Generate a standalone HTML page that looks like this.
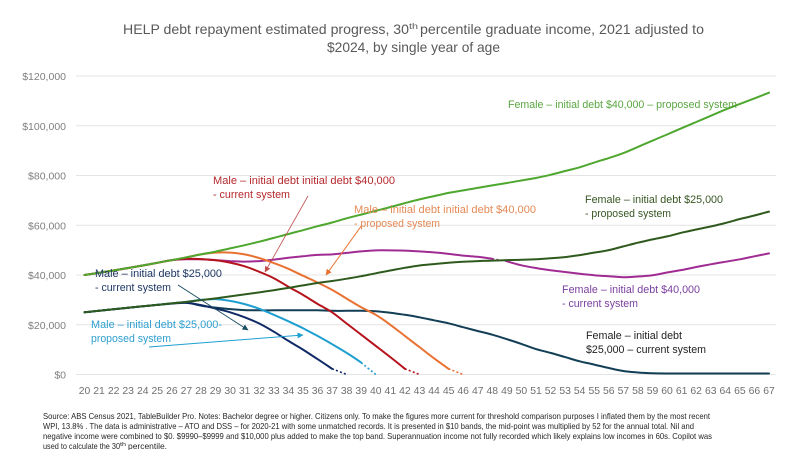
<!DOCTYPE html>
<html lang="en">
<head>
<meta charset="utf-8">
<title>HELP debt repayment estimated progress</title>
<style>
html,body{margin:0;padding:0;background:#fff;width:800px;height:450px;overflow:hidden}
svg{display:block;filter:blur(0.3px)}
text{font-family:"Liberation Sans",sans-serif}
</style>
</head>
<body>
<svg id="chart" xmlns="http://www.w3.org/2000/svg" width="800" height="450" viewBox="0 0 800 450">
  <rect width="800" height="450" fill="#ffffff"/>
  <defs>
    <marker id="arrow-red" markerWidth="7" markerHeight="7" refX="5.5" refY="3" orient="auto" markerUnits="userSpaceOnUse"><path d="M0,0 L6,3 L0,6 Z" fill="#c0504d"/></marker>
    <marker id="arrow-orange" markerWidth="7" markerHeight="7" refX="5.5" refY="3" orient="auto" markerUnits="userSpaceOnUse"><path d="M0,0 L6,3 L0,6 Z" fill="#e97132"/></marker>
    <marker id="arrow-navy" markerWidth="7" markerHeight="7" refX="5.5" refY="3" orient="auto" markerUnits="userSpaceOnUse"><path d="M0,0 L6,3 L0,6 Z" fill="#1d4e63"/></marker>
    <marker id="arrow-blue" markerWidth="7" markerHeight="7" refX="5.5" refY="3" orient="auto" markerUnits="userSpaceOnUse"><path d="M0,0 L6,3 L0,6 Z" fill="#1f9fd0"/></marker>
  </defs>

  <g fill="#595959" font-size="14">
    <text x="123" y="34" textLength="286" lengthAdjust="spacingAndGlyphs">HELP debt repayment estimated progress, 30</text>
    <text x="409" y="29" font-size="8.5" textLength="9" lengthAdjust="spacingAndGlyphs">th</text>
    <text x="420" y="34" textLength="284" lengthAdjust="spacingAndGlyphs">percentile graduate income, 2021 adjusted to</text>
    <text x="327" y="52" textLength="173" lengthAdjust="spacingAndGlyphs">$2024, by single year of age</text>
  </g>

  <g id="grid"></g>
  <g id="yTicks"></g>
  <g id="xTicks"></g>
  <g id="lines"></g>

  <g fill="none">
    <line x1="308" y1="196" x2="265" y2="272" stroke="#c0504d" stroke-width="0.8" marker-end="url(#arrow-red)"/>
    <line x1="362" y1="225" x2="326" y2="275" stroke="#e97132" stroke-width="1" marker-end="url(#arrow-orange)"/>
    <line x1="178" y1="285" x2="248" y2="330" stroke="#1d4e63" stroke-width="1" marker-end="url(#arrow-navy)"/>
    <line x1="149" y1="347" x2="303" y2="335" stroke="#1f9fd0" stroke-width="1" marker-end="url(#arrow-blue)"/>
  </g>

  <g font-size="11">
    <text fill="#5aa642" x="508" y="108" textLength="229" lengthAdjust="spacingAndGlyphs">Female – initial debt $40,000 – proposed system</text>
    <text fill="#375623" x="585" y="203" textLength="138" lengthAdjust="spacingAndGlyphs">Female – initial debt $25,000</text>
    <text fill="#375623" x="585" y="217" textLength="86" lengthAdjust="spacingAndGlyphs">- proposed system</text>
    <text fill="#7a3f9f" x="562" y="293" textLength="138" lengthAdjust="spacingAndGlyphs">Female – initial debt $40,000</text>
    <text fill="#7a3f9f" x="562" y="307" textLength="76" lengthAdjust="spacingAndGlyphs">- current system</text>
    <text fill="#222222" x="586" y="339" textLength="96" lengthAdjust="spacingAndGlyphs">Female – initial debt</text>
    <text fill="#222222" x="586" y="353" textLength="120" lengthAdjust="spacingAndGlyphs">$25,000 – current system</text>
    <text fill="#b5282c" x="213" y="184" textLength="182" lengthAdjust="spacingAndGlyphs">Male – initial debt initial debt $40,000</text>
    <text fill="#b5282c" x="213" y="198" textLength="77" lengthAdjust="spacingAndGlyphs">- current system</text>
    <text fill="#e58a55" x="354" y="213" textLength="182" lengthAdjust="spacingAndGlyphs">Male – initial debt initial debt $40,000</text>
    <text fill="#e58a55" x="354" y="227" textLength="86" lengthAdjust="spacingAndGlyphs">- proposed system</text>
    <text fill="#1f3864" x="95" y="277" textLength="127" lengthAdjust="spacingAndGlyphs">Male – initial debt $25,000</text>
    <text fill="#1f3864" x="95" y="291" textLength="76" lengthAdjust="spacingAndGlyphs">- current system</text>
    <text fill="#2e9fd0" x="91" y="328" textLength="131" lengthAdjust="spacingAndGlyphs">Male – initial debt $25,000-</text>
    <text fill="#2e9fd0" x="91" y="342" textLength="80" lengthAdjust="spacingAndGlyphs">proposed system</text>
  </g>

  <g fill="#262626" font-size="8.3">
    <text x="43" y="419" textLength="667" lengthAdjust="spacingAndGlyphs">Source: ABS Census 2021, TableBuilder Pro.  Notes: Bachelor degree or higher. Citizens only. To make the figures more current for threshold comparison purposes I inflated them by the most recent</text>
    <text x="43" y="429" textLength="651" lengthAdjust="spacingAndGlyphs">WPI, 13.8% . The data is administrative – ATO and DSS – for 2020-21 with some unmatched records. It is presented in $10 bands, the mid-point was multiplied by 52 for the annual total. Nil and</text>
    <text x="43" y="439" textLength="669" lengthAdjust="spacingAndGlyphs">negative income were combined to $0. $9990–$9999 and $10,000 plus added to make the top band. Superannuation income not fully recorded which likely explains low incomes in 60s. Copilot was</text>
    <text x="43" y="449" textLength="77" lengthAdjust="spacingAndGlyphs">used to calculate the 30</text>
    <text x="120" y="446" font-size="5.5" textLength="6" lengthAdjust="spacingAndGlyphs">th</text>
    <text x="128" y="449" textLength="39" lengthAdjust="spacingAndGlyphs">percentile.</text>
  </g>
</svg>

<script>
const ages = [20,21,22,23,24,25,26,27,28,29,30,31,32,33,34,35,36,37,38,39,40,41,42,43,44,45,46,47,48,49,50,51,52,53,54,55,56,57,58,59,60,61,62,63,64,65,66,67];
const yTickValues = [0,20000,40000,60000,80000,100000,120000];
const yTickLabels = ["$0","$20,000","$40,000","$60,000","$80,000","$100,000","$120,000"];

const femaleProposed40 = [40000,40900,41800,42800,43800,44900,46000,47100,48300,49400,50700,52000,53400,54900,56500,58000,59600,61100,62800,64300,65800,67300,68900,70400,71700,73000,74000,75000,76000,77000,78000,79000,80300,81800,83300,85200,87000,89000,91500,94000,96500,99000,101500,104000,106500,108800,111000,113300];
const femaleProposed25 = [25000,25600,26200,26800,27400,28000,28600,29200,29900,30600,31400,32200,33000,33900,34800,35800,36800,37600,38500,39500,40700,41800,42900,43800,44400,44900,45300,45600,45800,46000,46100,46300,46700,47200,48000,49000,50000,51500,53000,54300,55500,57000,58300,59500,60900,62500,63900,65500];
const femaleCurrent40 = [40000,40900,41800,42800,43800,44900,46000,46300,46300,46000,45600,45400,45600,46200,46900,47500,48100,48300,48900,49500,49900,49900,49800,49500,49100,48500,47800,47300,46500,45500,43900,42800,41900,41200,40500,39900,39500,39100,39400,39900,41000,42000,43200,44300,45300,46300,47500,48700];
const femaleCurrent25 = [25000,25600,26200,26800,27400,28000,28600,28900,27700,26900,26300,25900,25800,25800,25800,25800,25800,25600,25600,25600,25400,24800,24000,23000,21800,20600,19000,17500,16000,14200,12300,10200,8700,7000,5300,4000,2600,1400,800,500,400,400,400,400,400,400,400,400];
const maleCurrent40 = [40000,40900,41800,42800,43800,44900,46000,46500,46400,45900,45000,43500,41300,38700,35300,32000,28400,25000,20500,16000,11500,7000,2300,0];
const maleProposed40 = [40000,40900,41800,42800,43800,44900,46000,47100,48300,49000,49000,48300,46800,44800,42500,39700,37000,34000,30500,27000,24000,20000,15500,11000,6500,2300,0];
const maleCurrent25 = [25000,25600,26200,26800,27400,28000,28500,28800,27900,26500,25000,23000,20500,17200,13500,10000,6200,2300,0];
const maleProposed25 = [25000,25600,26200,26800,27400,28000,28600,29200,30000,30300,29600,28300,26400,24000,21400,18600,15500,12200,8700,4800,0];

const svgNS = "http://www.w3.org/2000/svg";
function xScale(age){ return 84.5 + (age - 20) * (769 - 84.5) / 47; }
function yScale(v){ return 374.5 - v * (374.5 - 76) / 120000; }
function make(tag, attrs, parent){
  const el = document.createElementNS(svgNS, tag);
  for (const k in attrs) el.setAttribute(k, attrs[k]);
  parent.appendChild(el);
  return el;
}

const grid = document.getElementById("grid");
const yTicks = document.getElementById("yTicks");
yTickValues.forEach(function(v, i){
  const line = make("line", {x1:76, x2:776, y1:yScale(v), y2:yScale(v), stroke:"#e4e4e4", "stroke-width":1}, grid);
  
  
  const t = make("text", {x:66, y:yScale(v)+4, "text-anchor":"end", "font-size":10.5, fill:"#7f7f7f"}, yTicks);
  
  
  t.textContent = yTickLabels[i];
});

const xTicks = document.getElementById("xTicks");
ages.forEach(function(a){
  const t = make("text", {x:xScale(a), y:394, "text-anchor":"middle", "font-size":10.4, fill:"#6f6f6f"}, xTicks);
  
  
  t.textContent = a;
});

const lines = document.getElementById("lines");
function smoothPath(values, from, to){
  const p = [];
  for (let i = from; i <= to && i < values.length; i++) p.push([xScale(ages[i]), yScale(values[i])]);
  if (p.length === 0) return "";
  let d = "M" + p[0][0].toFixed(1) + "," + p[0][1].toFixed(1);
  for (let i = 0; i < p.length - 1; i++){
    const a = p[Math.max(i - 1, 0)], b = p[i], c = p[i + 1], e = p[Math.min(i + 2, p.length - 1)];
    const c1x = b[0] + (c[0] - a[0]) / 6, c1y = b[1] + (c[1] - a[1]) / 6;
    const c2x = c[0] - (e[0] - b[0]) / 6, c2y = c[1] - (e[1] - b[1]) / 6;
    d += " C" + c1x.toFixed(1) + "," + c1y.toFixed(1) + " " + c2x.toFixed(1) + "," + c2y.toFixed(1) + " " + c[0].toFixed(1) + "," + c[1].toFixed(1);
  }
  return d;
}
function drawPart(values, from, to, color, dotted, name){
  const attrs = {d:smoothPath(values, from, to), fill:"none", stroke:color, "stroke-width":dotted ? 1.6 : 2, "stroke-linejoin":"round", "stroke-linecap":dotted ? "butt" : "round"};
  if (dotted) attrs["stroke-dasharray"] = "2 2.2";
  const line = make("path", attrs, lines);
  
  
}
function drawSolid(values, color, name){
  drawPart(values, 0, values.length - 1, color, false, name);
}
function drawWithDottedEnd(values, color, name){
  const last = values.length - 1;
  drawPart(values, 0, last - 1, color, false, name);
  drawPart(values, last - 1, last, color, true, name + "-dotted");
}
function drawWithDottedGap(values, color, name, gapIndex){
  drawPart(values, 0, gapIndex, color, false, name);
  drawPart(values, gapIndex, gapIndex + 1, color, true, name + "-dotted");
  drawPart(values, gapIndex + 1, values.length - 1, color, false, name + "-continued");
}

drawSolid(femaleCurrent25, "#123f56", "line-female-25k-current");
drawWithDottedGap(femaleCurrent40, "#a02b93", "line-female-40k-current", 28);
drawWithDottedEnd(maleProposed40, "#e97132", "line-male-40k-proposed");
drawWithDottedEnd(maleCurrent40, "#b5121b", "line-male-40k-current");
drawWithDottedEnd(maleProposed25, "#1f9fd0", "line-male-25k-proposed");
drawWithDottedEnd(maleCurrent25, "#0f2a66", "line-male-25k-current");
drawSolid(femaleProposed25, "#2f5a1e", "line-female-25k-proposed");
drawSolid(femaleProposed40, "#4ea72e", "line-female-40k-proposed");
</script>
</body>
</html>
